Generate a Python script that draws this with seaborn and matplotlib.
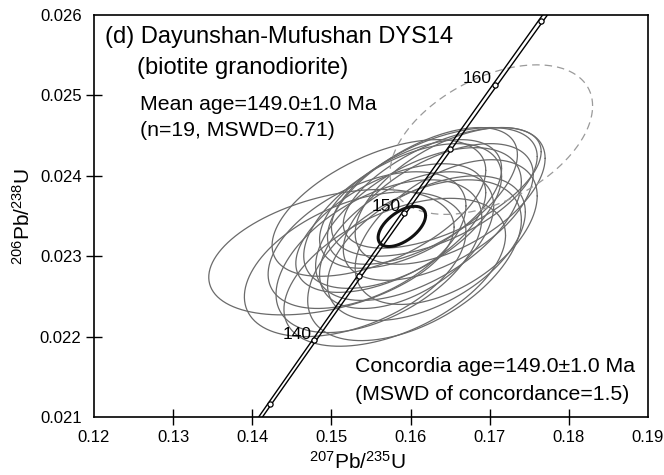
import numpy as np
import pandas as pd
import matplotlib
matplotlib.use("Agg")
import matplotlib.pyplot as plt
import seaborn as sns

# ---------------- data ----------------
# accepted analyses: centre (207Pb/235U, 206Pb/238U), 2-sigma half extents, error correlation
spot_x = [0.1500, 0.1530, 0.1545, 0.1560, 0.1575, 0.1580, 0.1590, 0.1595, 0.1600, 0.1610,
          0.1615, 0.1620, 0.1630, 0.1635, 0.1640, 0.1645, 0.1650, 0.1560, 0.1605]
spot_y = [0.02305, 0.02290, 0.02320, 0.02300, 0.02335, 0.02280, 0.02350, 0.02320, 0.02365, 0.02340,
          0.02375, 0.02310, 0.02380, 0.02355, 0.02385, 0.02330, 0.02375, 0.02360, 0.02295]
spot_sx = [0.0155, 0.0140, 0.0125, 0.0130, 0.0120, 0.0140, 0.0125, 0.0110, 0.0115, 0.0130,
           0.0120, 0.0125, 0.0130, 0.0120, 0.0125, 0.0115, 0.0120, 0.0135, 0.0135]
spot_sy = [0.00078, 0.00090, 0.00085, 0.00095, 0.00080, 0.00092, 0.00090, 0.00085, 0.00080, 0.00095,
           0.00085, 0.00090, 0.00080, 0.00085, 0.00075, 0.00090, 0.00085, 0.00085, 0.00100]
spot_rho = [0.40, 0.45, 0.50, 0.50, 0.55, 0.50, 0.55, 0.50, 0.55, 0.55,
            0.60, 0.50, 0.55, 0.55, 0.60, 0.50, 0.55, 0.55, 0.50]

# rejected analysis (dashed)
rej_x, rej_y, rej_sx, rej_sy, rej_rho = [0.1702], [0.02445], [0.0128], [0.00093], [0.45]

# concordia age ellipse
mean_x, mean_y, mean_sx, mean_sy, mean_rho = [0.1589], [0.02337], [0.0030], [0.00025], [0.55]

# concordia tick ages (Ma) and labelled ages
marker_ages = [135, 140, 145, 150, 155, 160, 165]
label_ages = [140, 150, 160]

x_ticks = [0.12, 0.13, 0.14, 0.15, 0.16, 0.17, 0.18, 0.19]
x_ticklabels = ["0.12", "0.13", "0.14", "0.15", "0.16", "0.17", "0.18", "0.19"]
y_ticks = [0.021, 0.022, 0.023, 0.024, 0.025, 0.026]
y_ticklabels = ["0.021", "0.022", "0.023", "0.024", "0.025", "0.026"]

LAMBDA238 = 1.55125e-10
LAMBDA235 = 9.8485e-10


def ellipse_frame(xs, ys, sxs, sys_, rhos, n=240):
    rows = []
    th = np.linspace(0, 2 * np.pi, n)
    for i, (cx, cy, sx, sy, r) in enumerate(zip(xs, ys, sxs, sys_, rhos)):
        ex = cx + sx * np.cos(th)
        ey = cy + sy * (r * np.cos(th) + np.sqrt(1 - r * r) * np.sin(th))
        rows.append(pd.DataFrame({"x": ex, "y": ey, "spot": i}))
    return pd.concat(rows, ignore_index=True)


def concordia(ages_ma, eps=0.0):
    t = np.asarray(ages_ma, dtype=float) * 1e6
    return np.exp(LAMBDA235 * (1 + eps) * t) - 1, np.exp(LAMBDA238 * t) - 1


# ---------------- style ----------------
sns.set_style("white")
plt.rcParams["font.family"] = ["Liberation Sans", "DejaVu Sans"]
plt.rcParams["mathtext.fontset"] = "custom"
plt.rcParams["mathtext.rm"] = "Liberation Sans"
plt.rcParams["mathtext.it"] = "Liberation Sans"
for k in ("text.color", "axes.labelcolor", "xtick.color", "ytick.color", "axes.edgecolor"):
    plt.rcParams[k] = "black"

fig = plt.figure(figsize=(6.64, 4.75), dpi=100)
ax = fig.add_axes([94 / 664, 1 - 417 / 475, (648 - 94) / 664, (417 - 15) / 475])

# ellipses
df_spots = ellipse_frame(spot_x, spot_y, spot_sx, spot_sy, spot_rho)
sns.lineplot(data=df_spots, x="x", y="y", units="spot", estimator=None, sort=False,
             color="#6a6a6a", lw=0.9, ax=ax)
df_rej = ellipse_frame(rej_x, rej_y, rej_sx, rej_sy, rej_rho)
sns.lineplot(data=df_rej, x="x", y="y", units="spot", estimator=None, sort=False,
             color="#9a9a9a", lw=0.9, ls=(0, (6, 4)), ax=ax)

# concordia band
age_grid = np.linspace(120, 180, 400)
for eps in (-0.0016, 0.0016):
    cx, cy = concordia(age_grid, eps)
    sns.lineplot(x=cx, y=cy, sort=False, estimator=None, color="black", lw=1.0, ax=ax)

df_mean = ellipse_frame(mean_x, mean_y, mean_sx, mean_sy, mean_rho)
sns.lineplot(data=df_mean, x="x", y="y", units="spot", estimator=None, sort=False,
             color="#111111", lw=2.2, ax=ax)

mx, my = concordia(marker_ages)
sns.scatterplot(x=mx, y=my, s=14, facecolor="white", edgecolor="black", linewidth=0.9,
                zorder=5, ax=ax)

lx, ly = concordia(label_ages)
for a, px, py in zip(label_ages, lx, ly):
    ax.annotate(str(a), (px, py), xytext=(-3, 6), textcoords="offset pixels",
                ha="right", va="center", fontsize=12.5, zorder=6)

# axes
ax.set_xlim(x_ticks[0], x_ticks[-1])
ax.set_ylim(y_ticks[0], y_ticks[-1])
ax.set_xticks(x_ticks)
ax.set_xticklabels(x_ticklabels, fontsize=12)
ax.set_yticks(y_ticks)
ax.set_yticklabels(y_ticklabels, fontsize=12)
ax.tick_params(bottom=True, left=True, top=False, right=False,
               direction="inout", length=12, width=1.0, color="black", pad=3)
for t in (ax.xaxis.get_major_ticks()[0], ax.xaxis.get_major_ticks()[-1],
          ax.yaxis.get_major_ticks()[0], ax.yaxis.get_major_ticks()[-1]):
    t.tick1line.set_visible(False)
for s in ax.spines.values():
    s.set_visible(True)
    s.set_color("black")
    s.set_linewidth(1.2)

ax.set_xlabel(r"$^{207}$Pb/$^{235}$U", fontsize=15)
ax.set_ylabel(r"$^{206}$Pb/$^{238}$U", fontsize=15)
ax.xaxis.set_label_coords(0.475, -0.085)
ax.yaxis.set_label_coords(-0.108, 0.5)

def axfrac(px, py):
    return (px - 94) / 554, (417 - py) / 402

tkw = dict(transform=ax.transAxes, ha="left", va="center")
ax.text(*axfrac(105, 37), "(d) Dayunshan-Mufushan DYS14", fontsize=17, **tkw)
ax.text(*axfrac(137, 68), "(biotite granodiorite)", fontsize=17, **tkw)
ax.text(*axfrac(140, 105), "Mean age=149.0±1.0 Ma", fontsize=15.3, **tkw)
ax.text(*axfrac(140, 131), "(n=19, MSWD=0.71)", fontsize=15.3, **tkw)
ax.text(*axfrac(355, 367), "Concordia age=149.0±1.0 Ma", fontsize=15.3, **tkw)
ax.text(*axfrac(355, 394), "(MSWD of concordance=1.5)", fontsize=15.3, **tkw)

fig.savefig("out.png", dpi=100)
